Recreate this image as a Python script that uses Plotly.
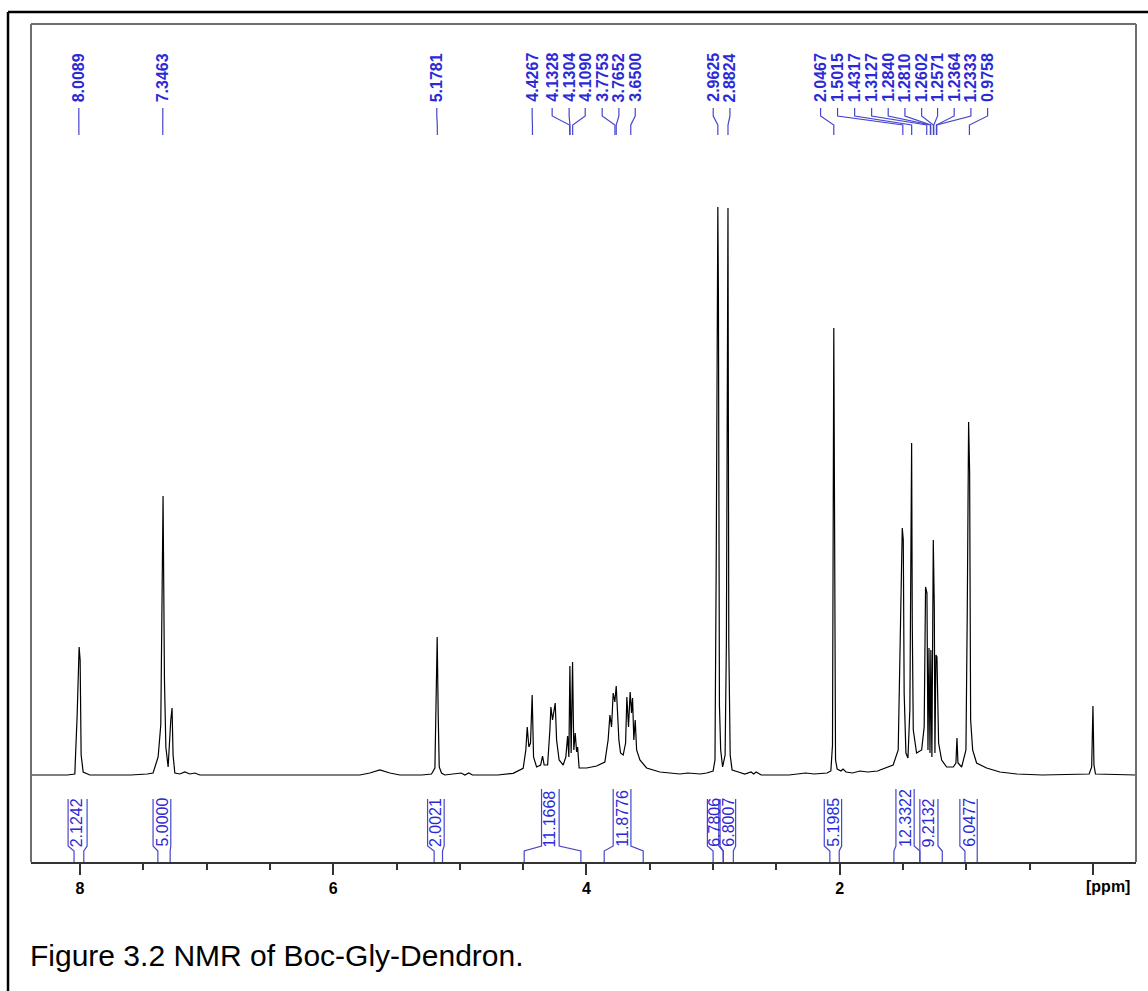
import plotly.graph_objects as go

# ---------------- data ----------------
# spectrum trace vertices (chemical shift in ppm, intensity in a.u.)
shift_ppm = [
    8.39, 8.10, 8.041, 8.023, 8.007, 7.999, 7.991, 7.975, 7.923, 7.60,
    7.47, 7.423, 7.383, 7.362, 7.344, 7.333, 7.322, 7.304, 7.283, 7.273,
    7.265, 7.251, 7.212, 7.172, 7.133, 7.093, 7.054, 6.50, 5.79, 5.711,
    5.632, 5.553, 5.474, 5.30, 5.224, 5.197, 5.184, 5.179, 5.171, 5.163,
    5.145, 5.119, 4.99, 4.96, 4.93, 4.90, 4.70, 4.579, 4.500, 4.479,
    4.468, 4.455, 4.442, 4.429, 4.418, 4.394, 4.362, 4.347, 4.334, 4.307,
    4.289, 4.281, 4.268, 4.247, 4.236, 4.216, 4.184, 4.163, 4.149, 4.139,
    4.131, 4.121, 4.110, 4.100, 4.089, 4.078, 4.070, 4.058, 3.999, 3.920,
    3.855, 3.829, 3.815, 3.802, 3.789, 3.776, 3.765, 3.758, 3.744, 3.731,
    3.710, 3.691, 3.681, 3.668, 3.655, 3.644, 3.636, 3.626, 3.615, 3.604,
    3.578, 3.525, 3.420, 3.262, 3.20, 3.10, 3.05, 3.00, 2.985, 2.975,
    2.9625, 2.958, 2.950, 2.940, 2.925, 2.905, 2.895, 2.8824, 2.876, 2.865,
    2.850, 2.80, 2.75, 2.70, 2.68, 2.66, 2.62, 2.40, 2.27, 2.20,
    2.10, 2.07, 2.057, 2.0467, 2.040, 2.033, 2.02, 1.99, 1.974, 1.95,
    1.90, 1.84, 1.78, 1.70, 1.682, 1.578, 1.538, 1.525, 1.514, 1.506,
    1.498, 1.491, 1.477, 1.461, 1.446, 1.438, 1.432, 1.427, 1.419, 1.393,
    1.353, 1.333, 1.322, 1.311, 1.303, 1.295, 1.287, 1.280, 1.272, 1.261,
    1.253, 1.248, 1.240, 1.232, 1.219, 1.195, 1.156, 1.103, 1.082, 1.074,
    1.066, 1.037, 1.003, 0.993, 0.987, 0.982, 0.974, 0.966, 0.950, 0.919,
    0.840, 0.735, 0.60, 0.40, 0.03, 0.01, 0.0, -0.008, -0.02, -0.34,
]
intensity = [
    0, 0, 1, 58, 128, 115, 20, 3, 0, 0,
    1, 2, 18, 50, 279, 95, 28, 8, 55, 67,
    20, 2, 1, 3, 1, 2, 0, 0, 0, 2,
    5, 2, 0, 0, 1, 7, 128, 138, 60, 8,
    2, 0, 2, 0, 2, 0, 0, 1.7, 6.7, 25,
    48, 28, 32, 80, 18, 8, 10, 19, 10, 10,
    45, 68, 55, 72, 35, 15, 10, 18, 39, 18,
    109, 22, 113, 25, 42, 23, 28, 7, 7, 9,
    13, 35, 60, 48, 82, 73, 89, 73, 35, 22,
    20, 32, 78, 48, 83, 62, 77, 35, 55, 25,
    15, 7, 3, 1, 2, 1, 2, 4, 15, 221,
    568, 481, 70, 25, 8, 20, 133, 567, 132, 20,
    5, 3, 1, 3, 1, 3, 0, 0, 2, 1,
    2, 4, 30, 447, 150, 15, 6, 4, 6, 3,
    2, 4, 3, 4, 5, 10, 25, 115, 202, 247,
    235, 82, 22, 17, 65, 325, 332, 152, 45, 22,
    25, 48, 188, 182, 25, 127, 22, 125, 18, 235,
    168, 22, 120, 118, 32, 15, 8, 8, 12, 37,
    12, 8, 25, 158, 303, 353, 303, 55, 25, 12,
    7, 3, 1, 0, 1, 8, 69, 10, 1, 0,
]

# peak-picking labels (the label text is the peak position)
peak_labels = ["8.0089", "7.3463", "5.1781", "4.4267", "4.1328", "4.1304",
               "4.1090", "3.7753", "3.7652", "3.6500", "2.9625", "2.8824",
               "2.0467", "1.5015", "1.4317", "1.3127", "1.2840", "1.2810",
               "1.2602", "1.2571", "1.2364", "1.2333", "0.9758"]

# integrals: value, integration limits (ppm)
integral_values = ["2.1242", "5.0000", "2.0021", "11.1668", "11.8776",
                   "6.7806", "6.8007", "5.1985", "12.3322", "9.2132", "6.0477"]
integral_from = [8.047, 7.385, 5.203, 4.492, 3.860, 3.000, 2.920, 2.078, 1.572, 1.367, 1.011]
integral_to = [7.970, 7.288, 5.137, 4.044, 3.552, 2.920, 2.840, 2.004, 1.367, 1.190, 0.914]

tick_values = [0, 2, 4, 6, 8]
tick_texts = ["", "2", "4", "6", "8"]
axis_unit = "[ppm]"
caption = "Figure 3.2 NMR of Boc-Gly-Dendron."

# ---------------- layout helpers (label placement) ----------------
peak_label_pos = [8.0095, 7.346, 5.182, 4.429, 4.271, 4.137, 4.010, 3.876, 3.744,
                  3.615, 2.999, 2.867, 2.151, 2.017, 1.882, 1.748, 1.617, 1.485,
                  1.353, 1.227, 1.096, 0.964, 0.832]
int_text_pos = [8.025, 7.352, 5.192, 4.289, 3.718, 2.990, 2.881, 2.051, 1.485, 1.295, 0.977]
int_box_left = [8.094, 7.423, 5.255, 4.355, 3.789, 3.045, 2.945, 2.122, 1.556, 1.367, 1.051]
int_box_right = [7.944, 7.283, 5.124, 4.216, 3.649, 2.955, 2.822, 1.985, 1.412, 1.224, 0.914]
int_tall = [False, False, False, True, True, False, False, False, True, False, False]

BLUE_TXT = "#2a2ad6"
BLUE_LN = "#4646cc"
FONT = "Liberation Sans, Arial, sans-serif"

Y_BOTTOM, Y_TOP = -87, 751

fig = go.Figure()
fig.add_trace(go.Scatter(x=shift_ppm, y=intensity, mode="lines",
                         line=dict(color="black", width=1.2),
                         hoverinfo="skip", showlegend=False))

shapes = []
annotations = []

# peak labels + connectors
for lab, pos in zip(peak_labels, peak_label_pos):
    p = float(lab)
    annotations.append(dict(x=pos, y=671, xref="x", yref="y", text="<b>" + lab + "</b>",
                            textangle=-90, showarrow=False, xanchor="center", yanchor="bottom",
                            font=dict(family=FONT, size=16, color=BLUE_TXT)))
    path = f"M {pos},667 L {pos},659 L {p},650 L {p},640"
    shapes.append(dict(type="path", path=path, xref="x", yref="y",
                       line=dict(color=BLUE_LN, width=1.2)))

# integrals
for val, a, b, tx, bl, br, tall in zip(integral_values, integral_from, integral_to,
                                      int_text_pos, int_box_left, int_box_right, int_tall):
    top = -14 if tall else -24
    annotations.append(dict(x=tx, y=-74, xref="x", yref="y", text=val,
                            textangle=-90, showarrow=False, xanchor="center", yanchor="bottom",
                            font=dict(family=FONT, size=16, color=BLUE_TXT)))
    for box, leg in ((bl, a), (br, b)):
        path = f"M {box},{top} L {box},-71 L {leg},-76 L {leg},{Y_BOTTOM}"
        shapes.append(dict(type="path", path=path, xref="x", yref="y",
                           line=dict(color=BLUE_LN, width=1.2)))

# plot frame (left, top, right) in gray
for x0, y0, x1, y1 in ((0, 0, 0, 1), (0, 1, 1, 1), (1, 0, 1, 1)):
    shapes.append(dict(type="line", xref="paper", yref="paper", x0=x0, y0=y0, x1=x1, y1=y1,
                       line=dict(color="#6e6e6e", width=2)))

# outer black frame (cut off at right and bottom)
shapes.append(dict(type="line", xref="paper", yref="paper", x0=-0.0208, y0=1.0143,
                   x1=1.02, y1=1.0143, line=dict(color="black", width=2.5)))
shapes.append(dict(type="line", xref="paper", yref="paper", x0=-0.0208, y0=1.0143,
                   x1=-0.0208, y1=-0.17, line=dict(color="black", width=2.5)))

annotations.append(dict(x=0.9747, y=-0.0298, xref="paper", yref="paper",
                        text="<b>" + axis_unit + "</b>",
                        showarrow=False, xanchor="center", yanchor="middle",
                        font=dict(family=FONT, size=16, color="black")))
annotations.append(dict(x=-0.0027, y=-0.111, xref="paper", yref="paper", text=caption,
                        showarrow=False, xanchor="left", yanchor="middle",
                        font=dict(family=FONT, size=30, color="black")))

fig.update_layout(
    width=1148, height=991,
    margin=dict(l=31, r=12, t=24, b=129),
    paper_bgcolor="white", plot_bgcolor="white",
    shapes=shapes, annotations=annotations,
    xaxis=dict(range=[8.387, -0.34], showgrid=False, zeroline=False,
               showline=True, linecolor="#333333", linewidth=1.5,
               tickmode="array", tickvals=tick_values,
               ticktext=["<b>" + t + "</b>" if t else "" for t in tick_texts],
               ticks="outside", ticklen=11, tickwidth=1.5, tickcolor="#333333",
               tickfont=dict(family=FONT, size=16, color="black"),
               minor=dict(dtick=0.5, tick0=0, ticks="outside", ticklen=6,
                          tickwidth=1.5, tickcolor="#333333", showgrid=False)),
    yaxis=dict(range=[Y_BOTTOM, Y_TOP], visible=False, showgrid=False, zeroline=False),
)

fig.write_html("out.html", config={"displayModeBar": False},
               post_script="document.body.style.margin='0';document.body.style.overflow='hidden';")
